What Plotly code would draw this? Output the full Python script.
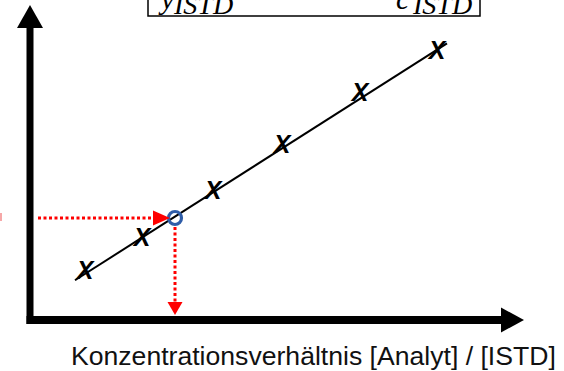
import numpy as np
import plotly.graph_objects as go

# Calibration standards: concentration ratio vs. response ratio (arbitrary units)
std_ratio = [55, 112, 183, 252, 330, 407]
resp_ratio = [47, 80, 127, 173, 225, 267]
marker_text = ["X", "X", "X", "X", "X", "X"]
fit_x_range = [45, 417]

# Unknown sample
sample_ratio = [145]
sample_resp = [102]

x_label = "Konzentrationsverhältnis [Analyt] / [ISTD]"
frac_terms = [("y", "ISTD"), ("c", "ISTD")]

slope, intercept = np.polyfit(std_ratio, resp_ratio, 1)
fit_x = np.array(fit_x_range, dtype=float)
fit_y = slope * fit_x + intercept

fig = go.Figure()
fig.add_trace(go.Scatter(x=fit_x, y=fit_y, mode="lines",
                         line=dict(color="black", width=2), hoverinfo="skip"))
fig.add_trace(go.Scatter(x=std_ratio, y=resp_ratio, mode="text", text=marker_text,
                         textposition="middle center",
                         textfont=dict(family="Liberation Sans", size=25, color="black"),
                         texttemplate="<b><i>%{text}</i></b>"))

sx, sy = sample_ratio[0], sample_resp[0]
red = "#FF0000"
# horizontal dotted read-off line
fig.add_trace(go.Scatter(x=[8, sx - 22], y=[sy, sy], mode="lines",
                         line=dict(color=red, width=3, dash="3px,2.5px"), hoverinfo="skip"))
# vertical dotted read-off line
fig.add_trace(go.Scatter(x=[sx, sx], y=[sy - 9, 18], mode="lines",
                         line=dict(color=red, width=3, dash="3px,2.5px"), hoverinfo="skip"))
fig.add_trace(go.Scatter(x=sample_ratio, y=sample_resp, mode="markers",
                         marker=dict(symbol="circle-open", size=13, color="#2F5DA8",
                                     line=dict(width=3.2, color="#2F5DA8"))))

shapes = []
# red arrow heads
shapes.append(dict(type="path", xref="x", yref="y",
                   path=f"M {sx-22},{sy+7.5} L {sx-22},{sy-7.5} L {sx-5},{sy} Z",
                   fillcolor=red, line=dict(width=0)))
shapes.append(dict(type="path", xref="x", yref="y",
                   path=f"M {sx-7.5},18 L {sx+7.5},18 L {sx},5 Z",
                   fillcolor=red, line=dict(width=0)))
# axes with arrows
shapes.append(dict(type="line", xref="x", yref="y", x0=0, y0=-4, x1=0, y1=294,
                   line=dict(color="black", width=7)))
shapes.append(dict(type="path", xref="x", yref="y", path="M -13,292 L 13,292 L 0,315 Z",
                   fillcolor="black", line=dict(width=0)))
shapes.append(dict(type="line", xref="x", yref="y", x0=-3.5, y0=0, x1=473, y1=0,
                   line=dict(color="black", width=8)))
shapes.append(dict(type="path", xref="x", yref="y", path="M 471,-12.5 L 471,12.5 L 494,0 Z",
                   fillcolor="black", line=dict(width=0)))
# formula box (cropped at top)
shapes.append(dict(type="rect", xref="x", yref="y", x0=118, y0=304, x1=450, y1=330,
                   line=dict(color="black", width=1.5)))
# cropped pink label fragment at the left edge
shapes.append(dict(type="rect", xref="x", yref="y", x0=-31, y0=99, x1=-28, y1=107,
                   fillcolor="#F6A8A8", line=dict(width=0)))

annotations = []
for (var, sub), xv, xs in zip(frac_terms, [136, 372], [172.5, 412]):
    annotations.append(dict(x=xv, y=303.5, xref="x", yref="y", text=f"<i>{var}</i>",
                            showarrow=False, yanchor="bottom", xanchor="center",
                            font=dict(family="Liberation Serif", size=30, color="black")))
    annotations.append(dict(x=xs, y=298, xref="x", yref="y", text=f"<i>{sub}</i>",
                            showarrow=False, yanchor="bottom", xanchor="center",
                            font=dict(family="Liberation Serif", size=28, color="black")))
annotations.append(dict(x=283, y=-36, xref="x", yref="y", text=x_label, showarrow=False,
                        xanchor="center", yanchor="middle",
                        font=dict(family="Liberation Sans", size=26.6, color="#111111")))

fig.update_layout(
    width=564, height=371, margin=dict(l=0, r=0, t=0, b=0),
    paper_bgcolor="white", plot_bgcolor="white", showlegend=False,
    xaxis=dict(range=[-30, 534], visible=False, fixedrange=True),
    yaxis=dict(range=[-51, 320], visible=False, fixedrange=True),
    shapes=shapes, annotations=annotations,
)
fig.write_html("out.html")
